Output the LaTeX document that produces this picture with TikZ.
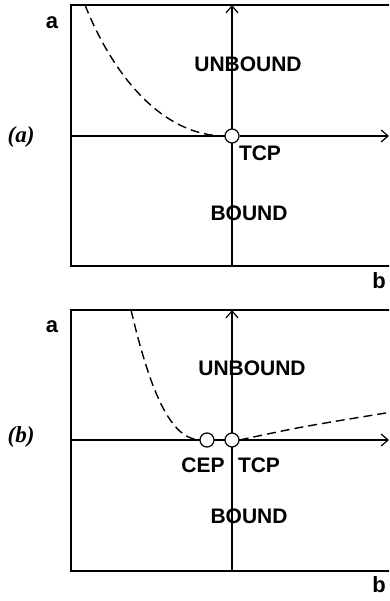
\documentclass[tikz,border=0pt]{standalone}
\usepackage{fontspec}
\setmainfont{Liberation Sans}
\newfontfamily\serifb{Liberation Serif}
\usetikzlibrary{arrows.meta}
\begin{document}
\begin{tikzpicture}[x=1pt,y=-1pt,
  lbl/.style={inner sep=0pt,font=\fontsize{21}{25}\selectfont\bfseries},
  axlbl/.style={inner sep=0pt,font=\fontsize{22}{26}\selectfont\bfseries},
  plbl/.style={inner sep=0pt,font=\serifb\fontsize{23}{27}\selectfont\bfseries\itshape},
  pt/.style={circle,draw,fill=white,line width=1.2pt,minimum size=14pt,inner sep=0pt},
  frame/.style={line width=1.2pt},
  thinax/.style={line width=1.2pt},
  arrowax/.style={-{Straight Barb[length=7pt,width=12pt,line width=1.2pt]}},
  heavy/.style={line width=2.4pt},
  dashcurve/.style={dash pattern=on 9pt off 5pt, line width=1.4pt}]
\useasboundingbox (0,0) rectangle (389,601);
\clip (0,0) rectangle (389,601);

% ---------- panel (a) ----------
\coordinate (a-bot) at (232,266);
\coordinate (a-top) at (232,5);
\coordinate (a-left) at (71,136);
\coordinate (a-right) at (389,136);
\coordinate (a-c0) at (85,5);
\coordinate (a-c1) at (225,136);
\draw[frame] (395,5) -- (71,5) -- (71,266) -- (395,266);
\draw[dashcurve] (a-c0) .. controls (115,80) and (165,136) .. (a-c1);
\draw[thinax,arrowax] (a-bot) -- (a-top);
\draw[thinax] (a-left) -- (232,136);
\node[pt] (a-tcp) at (232,136) {};
\draw[heavy,arrowax] (a-tcp.east) -- (a-right);

\node[axlbl] (a-a) at (52,23) {a};
\node[axlbl] (a-b) at (379,281) {b};
\node[plbl] (a-p) at (21,137) {(a)};
\node[lbl] (a-unb) at (248,64) {UNBOUND};
\node[lbl] (a-tcpl) at (260,153) {TCP};
\node[lbl] (a-bnd) at (249,213) {BOUND};

% ---------- panel (b) ----------
\coordinate (b-bot) at (232,571);
\coordinate (b-top) at (232,310);
\coordinate (b-left) at (71,440);
\coordinate (b-right) at (389,440);
\coordinate (b-c0) at (131,310);
\coordinate (b-c1) at (201,440);
\draw[frame] (395,310) -- (71,310) -- (71,571) -- (395,571);
\draw[dashcurve] (b-c0) .. controls (150,390) and (170,440) .. (b-c1);
\draw[thinax,arrowax] (b-bot) -- (b-top);
\draw[thinax,arrowax] (b-left) -- (b-right);
\node[pt] (b-cep) at (207,440) {};
\node[pt] (b-tcp) at (232,440) {};
\draw[heavy] (b-cep) -- (b-tcp);
\coordinate (b-end) at (392,412);
\draw[dashcurve] (b-tcp.east) .. controls (300,427) .. (b-end);

\node[axlbl] (b-a) at (52,327) {a};
\node[axlbl] (b-b) at (379,585) {b};
\node[plbl] (b-p) at (21,437) {(b)};
\node[lbl] (b-unb) at (252,368) {UNBOUND};
\node[lbl] (b-cepl) at (203,465) {CEP};
\node[lbl] (b-tcpl) at (259,465) {TCP};
\node[lbl] (b-bnd) at (249,516) {BOUND};
\end{tikzpicture}
\end{document}
